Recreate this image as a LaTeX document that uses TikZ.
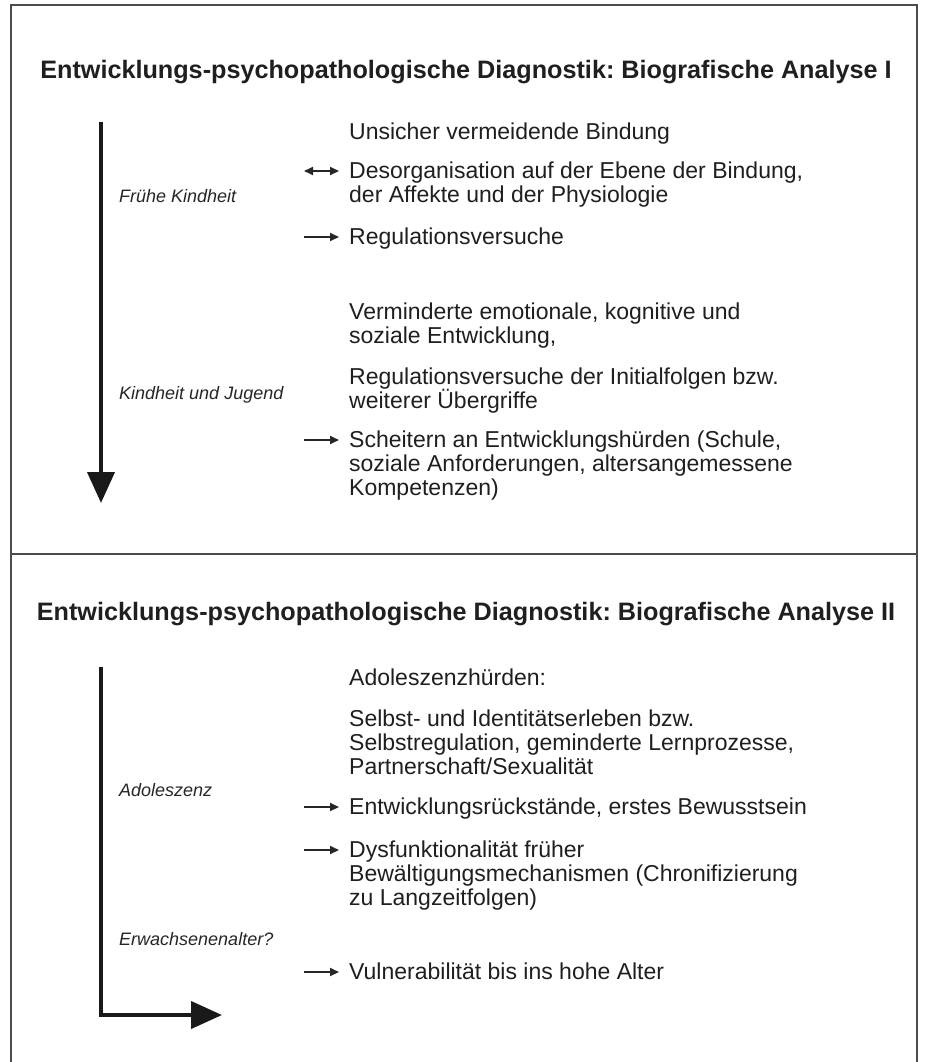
\documentclass[tikz,border=0pt]{standalone}
\usepackage{fontspec}
\setmainfont{Liberation Sans}
\usetikzlibrary{arrows.meta}
\frenchspacing
\newcommand\bodyfnt{\fontsize{23}{24.2}\selectfont\lineskiplimit=-100pt\relax}
\newcommand\titlefnt{\fontsize{25.2}{30}\selectfont\bfseries}
\newcommand\labfnt{\fontsize{18}{20}\selectfont\itshape}
\begin{document}
\begin{tikzpicture}[x=1pt,y=-1pt,
  txt/.style={anchor=north west,inner sep=0pt,align=left,font=\bodyfnt,text=black!88},
  lab/.style={anchor=base west,inner sep=0pt,font=\labfnt,text=black!85},
  ttl/.style={anchor=base,inner sep=0pt,font=\titlefnt,text=black!88},
  smallarrow/.style={-{Triangle[length=9pt,width=8pt]},line width=1.8pt,draw=black!85,shorten >=10pt},
  dblarrow/.style={{Triangle[length=9pt,width=8pt]}-{Triangle[length=9pt,width=8pt]},line width=1.8pt,draw=black!85,shorten >=10pt},
  bigarrow/.style={-{Triangle[length=31pt,width=27pt]},line width=4pt,draw=black!90,line join=miter},
  frame/.style={line width=2pt,draw=black!70}]
\useasboundingbox (0,0) rectangle (925,1062);
\fill[white] (0,0) rectangle (925,1062);
% frame
\coordinate (fbl) at (11,1062);
\coordinate (ftl) at (11,5);
\coordinate (ftr) at (917,5);
\coordinate (fbr) at (917,1062);
\coordinate (sl) at (11,554);
\coordinate (sr) at (917,554);
\draw[frame] (fbl) -- (ftl) -- (ftr) -- (fbr);
\draw[frame,line width=2.5pt] (sl) -- (sr);
% titles
\node[ttl] (title1) at (466,79) {Entwicklungs-psychopathologische Diagnostik: Biografische Analyse I};
\node[ttl] (title2) at (466,620) {Entwicklungs-psychopathologische Diagnostik: Biografische Analyse II};
% part I texts
\node[txt] (t1) at (349,122) {\strut Unsicher vermeidende Bindung};
\node[txt] (t2) at (349,161) {\strut Desorganisation auf der Ebene der Bindung,\\der Affekte und der Physiologie};
\node[txt] (t3) at (349,227) {\strut Regulationsversuche};
\node[txt] (t4) at (349,302) {\strut Verminderte emotionale, kognitive und\\soziale Entwicklung,};
\node[txt] (t5) at (349,367) {\strut Regulationsversuche der Initialfolgen bzw.\\weiterer Übergriffe};
\node[txt] (t6) at (349,430) {\strut Scheitern an Entwicklungshürden (Schule,\\soziale Anforderungen, altersangemessene\\Kompetenzen)};
\node[lab] (l1) at (119,202) {Frühe Kindheit};
\node[lab] (l2) at (119,399) {Kindheit und Jugend};
% part I arrows
\coordinate (top1) at (101,122);
\coordinate (bot1) at (101,503);
\draw[bigarrow] (top1) -- (bot1);
\coordinate (a2) at (304,171);
\coordinate (a3) at (304,237);
\coordinate (a6) at (304,440);
\draw[dblarrow] (a2) -- (a2 -| t2.west);
\draw[smallarrow] (a3) -- (a3 -| t3.west);
\draw[smallarrow] (a6) -- (a6 -| t6.west);
% part II texts
\node[txt] (u1) at (349,668) {\strut Adoleszenzhürden:};
\node[txt] (u2) at (349,709) {\strut Selbst- und Identitätserleben bzw.\\Selbstregulation, geminderte Lernprozesse,\\Partnerschaft/Sexualität};
\node[txt] (u3) at (349,797) {\strut Entwicklungsrückstände, erstes Bewusstsein};
\node[txt] (u4) at (349,840) {\strut Dysfunktionalität früher\\Bewältigungsmechanismen (Chronifizierung\\zu Langzeitfolgen)};
\node[txt] (u5) at (349,962) {\strut Vulnerabilität bis ins hohe Alter};
\node[lab] (l3) at (119,796) {Adoleszenz};
\node[lab] (l4) at (119,945) {Erwachsenenalter?};
% part II arrows
\coordinate (top2) at (101,667);
\coordinate (corner2) at (101,1015);
\coordinate (end2) at (222,1015);
\draw[bigarrow] (top2) -- (corner2) -- (end2);
\coordinate (b3) at (304,807);
\coordinate (b4) at (304,850);
\coordinate (b5) at (304,972);
\draw[smallarrow] (b3) -- (b3 -| u3.west);
\draw[smallarrow] (b4) -- (b4 -| u4.west);
\draw[smallarrow] (b5) -- (b5 -| u5.west);
\end{tikzpicture}
\end{document}
